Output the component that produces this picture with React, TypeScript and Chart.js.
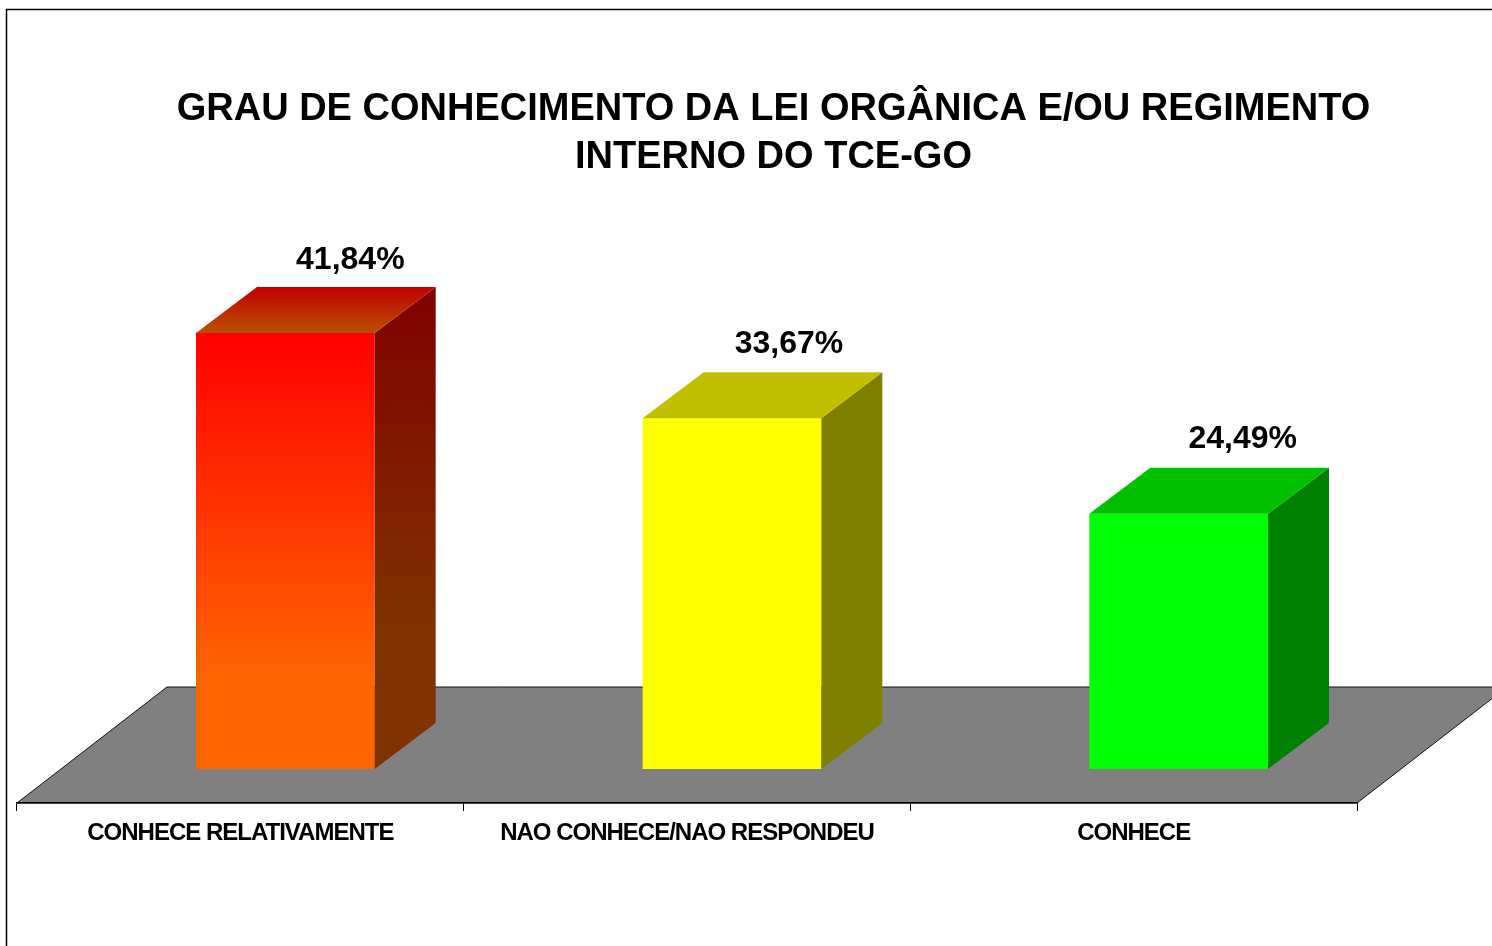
import React, { useEffect, useRef } from "react";
import { Chart, registerables } from "chart.js";

Chart.register(...registerables);

const titleLines = ["GRAU DE CONHECIMENTO DA LEI ORGÂNICA E/OU REGIMENTO", "INTERNO DO TCE-GO"];
const categories = ["CONHECE RELATIVAMENTE", "NAO CONHECE/NAO RESPONDEU", "CONHECE"];
const values = [41.84, 33.67, 24.49];
const valueLabels = ["41,84%", "33,67%", "24,49%"];
const frontTop = ["#ff0000", "#ffff00", "#00ff00"];
const frontBottom = ["#ff6600", "#ffff00", "#00ff00"];
const sideTop = ["#800000", "#808000", "#008000"];
const sideBottom = ["#803300", "#808000", "#008000"];
const capBack = ["#c00000", "#c0c000", "#00c000"];
const capFront = ["#bb5000", "#c0c000", "#00c000"];
const labelNudgeX = [4, -4, 3];
const labelNudgeY = [0, -1, -2];

const DEPTH_X = 61;
const DEPTH_Y = 46;
const BAR_SHIFT = 45;
const FLOOR_X = 150;
const FLOOR_Y = 116;
const FRONT_GRADIENT_END = 0.8;

const vGrad = (ctx: CanvasRenderingContext2D, y0: number, y1: number, a: string, b: string, end = 1) => {
  const g = ctx.createLinearGradient(0, y0, 0, y1);
  g.addColorStop(0, a);
  g.addColorStop(end, b);
  g.addColorStop(1, b);
  return g;
};

const scenePlugin = {
  id: "scene3d",
  afterLayout(chart: any) {
    const a = chart.chartArea;
    const shift = 773.5 - (a.left + a.right) / 2;
    chart.titleBlock.left += shift;
    chart.titleBlock.right += shift;
  },
  beforeDraw(chart: any) {
    const { ctx, chartArea: a } = chart;
    ctx.save();
    ctx.strokeStyle = "#000";
    ctx.lineWidth = 1.5;
    ctx.strokeRect(6.5, 9.5, 2000, 2000);
    ctx.beginPath();
    ctx.moveTo(a.left, a.bottom);
    ctx.lineTo(a.left + FLOOR_X, a.bottom - FLOOR_Y);
    ctx.lineTo(a.right + FLOOR_X, a.bottom - FLOOR_Y);
    ctx.lineTo(a.right, a.bottom);
    ctx.closePath();
    ctx.fillStyle = "#808080";
    ctx.fill();
    ctx.lineWidth = 1;
    ctx.strokeStyle = "#111";
    ctx.stroke();
    ctx.restore();
  },
  beforeDatasetsDraw(chart: any) {
    chart.ctx.save();
    chart.ctx.translate(BAR_SHIFT, 0);
  },
  afterDatasetsDraw(chart: any) {
    const { ctx } = chart;
    ctx.restore();
    ctx.save();
    chart.getDatasetMeta(0).data.forEach((bar: any, i: number) => {
      const right = bar.x + BAR_SHIFT + bar.width / 2;
      const left = right - bar.width;
      const top = bar.y;
      const base = bar.base;
      ctx.fillStyle = vGrad(ctx, top - DEPTH_Y, base - DEPTH_Y, sideTop[i], sideBottom[i], FRONT_GRADIENT_END);
      ctx.beginPath();
      ctx.moveTo(right, top);
      ctx.lineTo(right + DEPTH_X, top - DEPTH_Y);
      ctx.lineTo(right + DEPTH_X, base - DEPTH_Y);
      ctx.lineTo(right, base);
      ctx.closePath();
      ctx.fill();
      ctx.fillStyle = vGrad(ctx, top - DEPTH_Y, top, capBack[i], capFront[i]);
      ctx.beginPath();
      ctx.moveTo(left, top);
      ctx.lineTo(left + DEPTH_X, top - DEPTH_Y);
      ctx.lineTo(right + DEPTH_X, top - DEPTH_Y);
      ctx.lineTo(right, top);
      ctx.closePath();
      ctx.fill();
      ctx.fillStyle = "#000";
      ctx.font = "bold 32px 'Liberation Sans'";
      ctx.textAlign = "center";
      ctx.textBaseline = "middle";
      ctx.fillText(valueLabels[i], bar.x + BAR_SHIFT + DEPTH_X + labelNudgeX[i], top - 73 + labelNudgeY[i]);
    });
    ctx.restore();
    ctx.letterSpacing = "-1px";
  },
  afterDraw(chart: any) {
    chart.ctx.letterSpacing = "0px";
  },
};

export default function App() {
  const ref = useRef<HTMLCanvasElement>(null);
  useEffect(() => {
    const chart = new Chart(ref.current as HTMLCanvasElement, {
      type: "bar",
      data: {
        labels: categories,
        datasets: [
          {
            data: values,
            barPercentage: 0.4,
            categoryPercentage: 1,
            borderWidth: 0,
            backgroundColor: (c: any) => {
              const y = c.chart.scales.y;
              const i = c.dataIndex;
              const p0 = y ? y.getPixelForValue(values[i]) : NaN;
              const p1 = y ? y.getPixelForValue(0) : NaN;
              if (!Number.isFinite(p0) || !Number.isFinite(p1)) return frontTop[i];
              return vGrad(c.chart.ctx, p0, p1, frontTop[i], frontBottom[i], FRONT_GRADIENT_END);
            },
          },
        ],
      },
      options: {
        responsive: false,
        animation: false,
        devicePixelRatio: 1,
        layout: { padding: { left: 17, right: 135, top: 0, bottom: 0 } },
        plugins: {
          legend: { display: false },
          tooltip: { enabled: false },
          title: {
            display: true,
            text: titleLines,
            color: "#000",
            font: { family: "'Liberation Sans'", size: 38, weight: "bold", lineHeight: 48 / 38 },
            padding: { top: 86, bottom: 118 },
          },
        },
        scales: {
          x: {
            afterFit: (s: any) => {
              s.height = 143;
            },
            grid: { display: true, drawOnChartArea: false, drawTicks: true, tickLength: 8, color: "#000", lineWidth: 1 },
            border: { display: true, color: "#000", width: 1.5 },
            ticks: {
              color: "#000",
              font: { family: "'Liberation Sans'", size: 24, weight: "bold" },
              padding: 8,
              z: 1,
              maxRotation: 0,
              autoSkip: false,
            },
          },
          y: { display: false, min: -34 / 10.42, max: 469 / 10.42 },
        },
      },
      plugins: [scenePlugin],
    } as any);
    return () => chart.destroy();
  }, []);
  return (
    <div style={{ position: "absolute", left: 0, top: 0, width: 1492, height: 946, overflow: "hidden", background: "#fff" }}>
      <canvas ref={ref} width={1492} height={946} style={{ display: "block" }} />
    </div>
  );
}
